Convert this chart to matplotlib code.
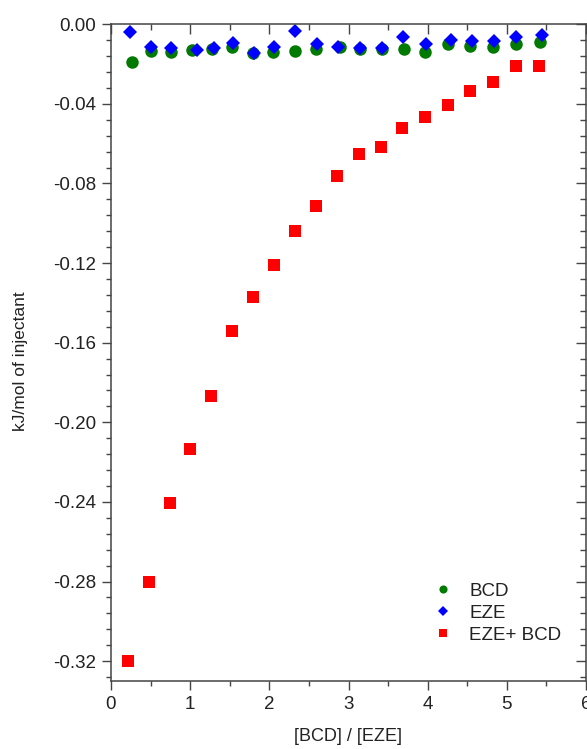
import matplotlib
matplotlib.use("Agg")
import matplotlib.pyplot as plt
from matplotlib.ticker import MultipleLocator, FuncFormatter

plt.rcParams['font.family'] = ['Liberation Sans', 'DejaVu Sans']

bcd_x = [0.27, 0.51, 0.76, 1.02, 1.27, 1.53, 1.79, 2.05, 2.32, 2.59,
         2.89, 3.15, 3.42, 3.70, 3.97, 4.26, 4.54, 4.82, 5.12, 5.42]
bcd_y = [-0.0189, -0.0134, -0.0137, -0.0129, -0.0125, -0.0112, -0.0145, -0.0137, -0.0132, -0.0125,
         -0.0112, -0.0125, -0.0124, -0.0124, -0.0137, -0.0100, -0.0109, -0.0112, -0.0100, -0.0087]

eze_x = [0.24, 0.50, 0.76, 1.08, 1.30, 1.54, 1.80, 2.06, 2.32, 2.60,
         2.87, 3.14, 3.42, 3.69, 3.98, 4.29, 4.56, 4.84, 5.12, 5.45]
eze_y = [-0.0040, -0.0115, -0.0120, -0.0129, -0.0117, -0.0092, -0.0146, -0.0112, -0.0034, -0.0097,
         -0.0112, -0.0117, -0.0117, -0.0065, -0.0100, -0.0079, -0.0085, -0.0085, -0.0062, -0.0054]

mix_x = [0.21, 0.48, 0.74, 1.00, 1.26, 1.53, 1.79, 2.06, 2.32, 2.59,
         2.86, 3.13, 3.41, 3.68, 3.97, 4.26, 4.54, 4.82, 5.12, 5.41]
mix_y = [-0.320, -0.2805, -0.2407, -0.2135, -0.187, -0.1542, -0.1368, -0.1212, -0.1037, -0.0913,
         -0.0761, -0.0651, -0.0616, -0.0520, -0.0465, -0.0405, -0.0335, -0.0290, -0.0209, -0.0209]

labels = ["BCD", "EZE", "EZE+ BCD"]

W, H = 587, 749
FS = 13.5
fig = plt.figure(figsize=(W / 100, H / 100), dpi=100)
ax = fig.add_axes([111 / W, (H - 681) / H, (586 - 111) / W, (681 - 24.3) / H])

ax.plot(bcd_x, bcd_y, 'o', color='#007A00', markersize=9, markeredgewidth=0, label=labels[0])
ax.plot(eze_x, eze_y, 'D', color='#0000FF', markersize=7.5, markeredgewidth=0, label=labels[1])
ax.plot(mix_x, mix_y, 's', color='#FF0000', markersize=8.5, markeredgewidth=0, label=labels[2])

ax.set_xlim(0, 6)
ax.set_ylim(-0.33, 0.0)

spine_c = '#444444'
for s in ax.spines.values():
    s.set_color(spine_c)
    s.set_linewidth(1.1)

ax.xaxis.set_major_locator(MultipleLocator(1))
ax.xaxis.set_minor_locator(MultipleLocator(0.5))
ax.yaxis.set_major_locator(MultipleLocator(0.04))
ax.yaxis.set_minor_locator(MultipleLocator(0.008))
ax.yaxis.set_major_formatter(FuncFormatter(lambda v, p: ("%.2f" % v).replace("-0.00", "0.00")))

ax.tick_params(which='major', direction='out', length=6.5, width=1.0, color=spine_c,
               labelsize=FS, labelcolor='#222222', pad=4)
ax.tick_params(which='minor', direction='out', length=3.6, width=1.0, color=spine_c)

secx = ax.secondary_xaxis('top')
secx.xaxis.set_major_locator(MultipleLocator(1))
secx.xaxis.set_minor_locator(MultipleLocator(0.5))
secx.tick_params(which='major', direction='in', length=7, width=1.0, color=spine_c, labeltop=False)
secx.tick_params(which='minor', direction='in', length=4, width=1.0, color=spine_c)
secx.spines['top'].set_visible(False)

secy = ax.secondary_yaxis('right')
secy.yaxis.set_major_locator(MultipleLocator(0.04))
secy.yaxis.set_minor_locator(MultipleLocator(0.008))
secy.tick_params(which='major', direction='in', length=7, width=1.0, color=spine_c, labelright=False)
secy.tick_params(which='minor', direction='in', length=4, width=1.0, color=spine_c)
secy.spines['right'].set_visible(False)

ax.set_xlabel("[BCD] / [EZE]", fontsize=13, color='#222222')
ax.set_ylabel("kJ/mol of injectant", fontsize=12.5, color='#222222')
ax.xaxis.set_label_coords(0.5, -0.0716)
ax.yaxis.set_label_coords(-0.175, 0.487)

leg = ax.legend(loc='center left', bbox_to_anchor=(433.6 / W, (H - 613) / H),
                bbox_transform=fig.transFigure, frameon=False, fontsize=FS,
                markerscale=0.65, handlelength=1.0, handletextpad=0.89, labelspacing=0.26,
                borderpad=0, borderaxespad=0)
for t in leg.get_texts():
    t.set_color('#222222')

fig.savefig("out.png", dpi=100)
